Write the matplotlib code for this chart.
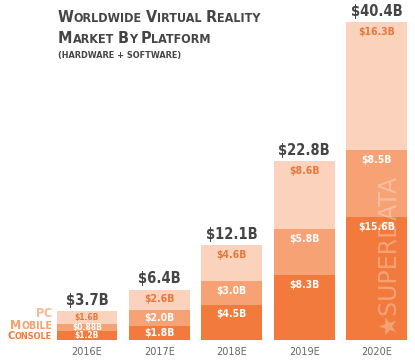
import numpy as np
import matplotlib
matplotlib.use('Agg')
import matplotlib.pyplot as plt

years = ['2016E', '2017E', '2018E', '2019E', '2020E']
console = [1.2, 1.8, 4.5, 8.3, 15.6]
mobile = [0.88, 2.0, 3.0, 5.8, 8.5]
pc = [1.6, 2.6, 4.6, 8.6, 16.3]
totals = ['$3.7B', '$6.4B', '$12.1B', '$22.8B', '$40.4B']
seg_labels = [
    ['$1.2B', '$1.8B', '$4.5B', '$8.3B', '$15.6B'],
    ['$0.88B', '$2.0B', '$3.0B', '$5.8B', '$8.5B'],
    ['$1.6B', '$2.6B', '$4.6B', '$8.6B', '$16.3B'],
]

c_console = '#f27a3c'
c_mobile = '#f6a274'
c_pc = '#fbd3bd'
c_pc_text = '#e7773a'
grey = '#454545'
cond = ['DejaVu Sans']
st = 'condensed'

fig = plt.figure(figsize=(4.15, 3.63), dpi=100)
W, H = 415, 363
ax = fig.add_axes([50.8 / W, 23 / H, 362 / W, 340 / H])
ax.set_xlim(-0.5, 4.5)
ax.set_ylim(0, 340 / 7.87)
ax.axis('off')

x = np.arange(len(years))
bw = 0.84
b1 = np.array(console)
b2 = b1 + np.array(mobile)
ax.bar(x, console, bw, color=c_console)
ax.bar(x, mobile, bw, bottom=b1, color=c_mobile)
ax.bar(x, pc, bw, bottom=b2, color=c_pc)

# watermark
ax.text(4.16, 0.6, '\u2605SUPERDATA', rotation=90, ha='center', va='bottom',
        fontsize=17, color='white', alpha=0.3, family=['DejaVu Sans'])

bottoms = [np.zeros(5), b1, b2]
heights = [console, mobile, pc]
colors_txt = ['white', 'white', c_pc_text]
for k in range(3):
    for i in range(5):
        top = bottoms[k][i] + heights[k][i]
        y = top - min(heights[k][i] / 2, 1.25)
        ax.text(x[i], y, seg_labels[k][i], ha='center', va='center',
                fontsize=6 if i == 0 else 7.5, fontweight='bold',
                color=colors_txt[k], family=cond, fontstretch=st)

tot = b2 + np.array(pc)
for i in range(5):
    ax.text(x[i], tot[i] + 0.4, totals[i], ha='center', va='bottom',
            fontsize=10.5, fontweight='bold', color=grey, family=cond,
            fontstretch=st)

for i in range(5):
    ax.text(x[i], -0.9, years[i], ha='center', va='top', fontsize=7,
            color='#666666')

fig.canvas.draw()
rend = fig.canvas.get_renderer()


def small_caps(xp, yp, words, big, small, color, ha='left'):
    # first letter of each word bigger; xp, yp in pixels from top-left
    pieces = []
    for w in words:
        pieces.append((w[0], big))
        if len(w) > 1:
            pieces.append((w[1:], small))
        pieces.append((' ', small))
    pieces = pieces[:-1]
    arts = []
    for s, fs in pieces:
        t = fig.text(0, 1 - yp / H, s, fontsize=fs, fontweight='bold',
                     color=color, family=cond, fontstretch=st,
                     va='baseline')
        arts.append(t)
    widths = [a.get_window_extent(rend).width for a in arts]
    total = sum(widths)
    cx = xp - total if ha == 'right' else xp
    for a, wdt in zip(arts, widths):
        a.set_x(cx / W)
        cx += wdt


small_caps(58, 22, ['WORLDWIDE', 'VIRTUAL', 'REALITY'], 11.5, 9, grey)
small_caps(58, 43, ['MARKET', 'BY', 'PLATFORM'], 11.5, 9, grey)
fig.text(58 / W, 1 - 58 / H, '(HARDWARE + SOFTWARE)', fontsize=6.5,
         fontweight='bold', color=grey, family=cond, fontstretch=st,
         va='baseline')

small_caps(52, 317, ['PC'], 9, 9, '#f7b995', ha='right')
small_caps(52, 329, ['MOBILE'], 9, 7.5, '#f4a070', ha='right')
small_caps(52, 339, ['CONSOLE'], 8, 6.5, c_console, ha='right')

fig.savefig('out.png', dpi=100)
